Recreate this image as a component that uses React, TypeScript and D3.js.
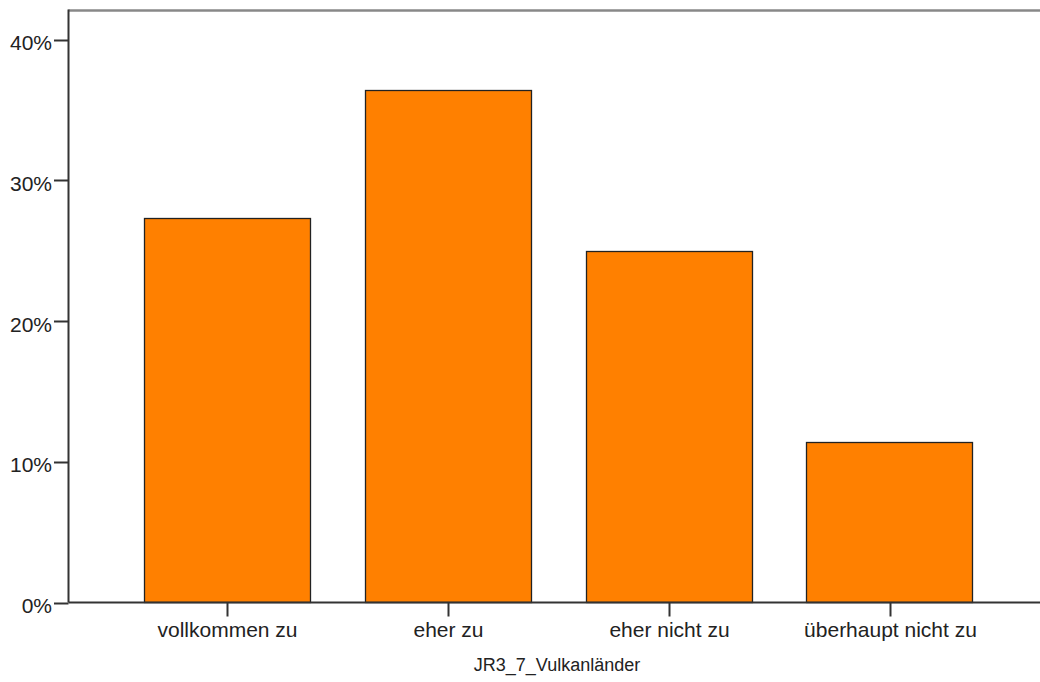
import React from "react";
import * as d3 from "d3";

const categories = ["vollkommen zu", "eher zu", "eher nicht zu", "überhaupt nicht zu"];
const values = [27.3, 36.4, 25.0, 11.4];
const yTicks = [0, 10, 20, 30, 40];
const xTitle = "JR3_7_Vulkanländer";

export default function App() {
  const W = 1040, H = 682;
  const left = 68.5, top = 10.5, bottom = 602.5;
  const y = d3.scaleLinear().domain([0, 40]).range([bottom, 39.5]);
  const x = d3.scaleBand<string>().domain(categories).range([117.8, 999.2]).paddingInner(0.2465).paddingOuter(0.12);
  const font = "Liberation Sans, Arial, sans-serif";
  return (
    <svg width={W} height={H} style={{ position: "absolute", left: 0, top: 0, background: "#fff" }}>
      <line x1={left} x2={W} y1={top} y2={top} stroke="#888" strokeWidth={2.5} />
      {categories.map((c, i) => (
        <rect key={c} x={Math.round(x(c)!) + 0.5} y={Math.round(y(values[i])) + 0.5}
          width={Math.round(x.bandwidth())} height={bottom - Math.round(y(values[i])) - 0.5}
          fill="#ff8000" stroke="#222" strokeWidth={1.3} />
      ))}
      <line x1={left} x2={left} y1={top - 1} y2={bottom} stroke="#333" strokeWidth={2} />
      <line x1={left} x2={W} y1={bottom} y2={bottom} stroke="#333" strokeWidth={2} />
      {yTicks.map(t => (
        <g key={t}>
          <line x1={54} x2={left} y1={Math.round(y(t)) + 0.5} y2={Math.round(y(t)) + 0.5} stroke="#333" strokeWidth={2} />
          <text x={52} y={y(t) + 10.5} textAnchor="end" fontFamily={font} fontSize={21} fill="#222">{t}%</text>
        </g>
      ))}
      {categories.map(c => {
        const cx = Math.round(x(c)! + x.bandwidth() / 2) + 0.5;
        return (
          <g key={c}>
            <line x1={cx} x2={cx} y1={bottom} y2={bottom + 14} stroke="#333" strokeWidth={2} />
            <text x={cx} y={637} textAnchor="middle" fontFamily={font} fontSize={21} fill="#222">{c}</text>
          </g>
        );
      })}
      <text x={557} y={671} textAnchor="middle" fontFamily={font} fontSize={18} fill="#222">{xTitle}</text>
    </svg>
  );
}
